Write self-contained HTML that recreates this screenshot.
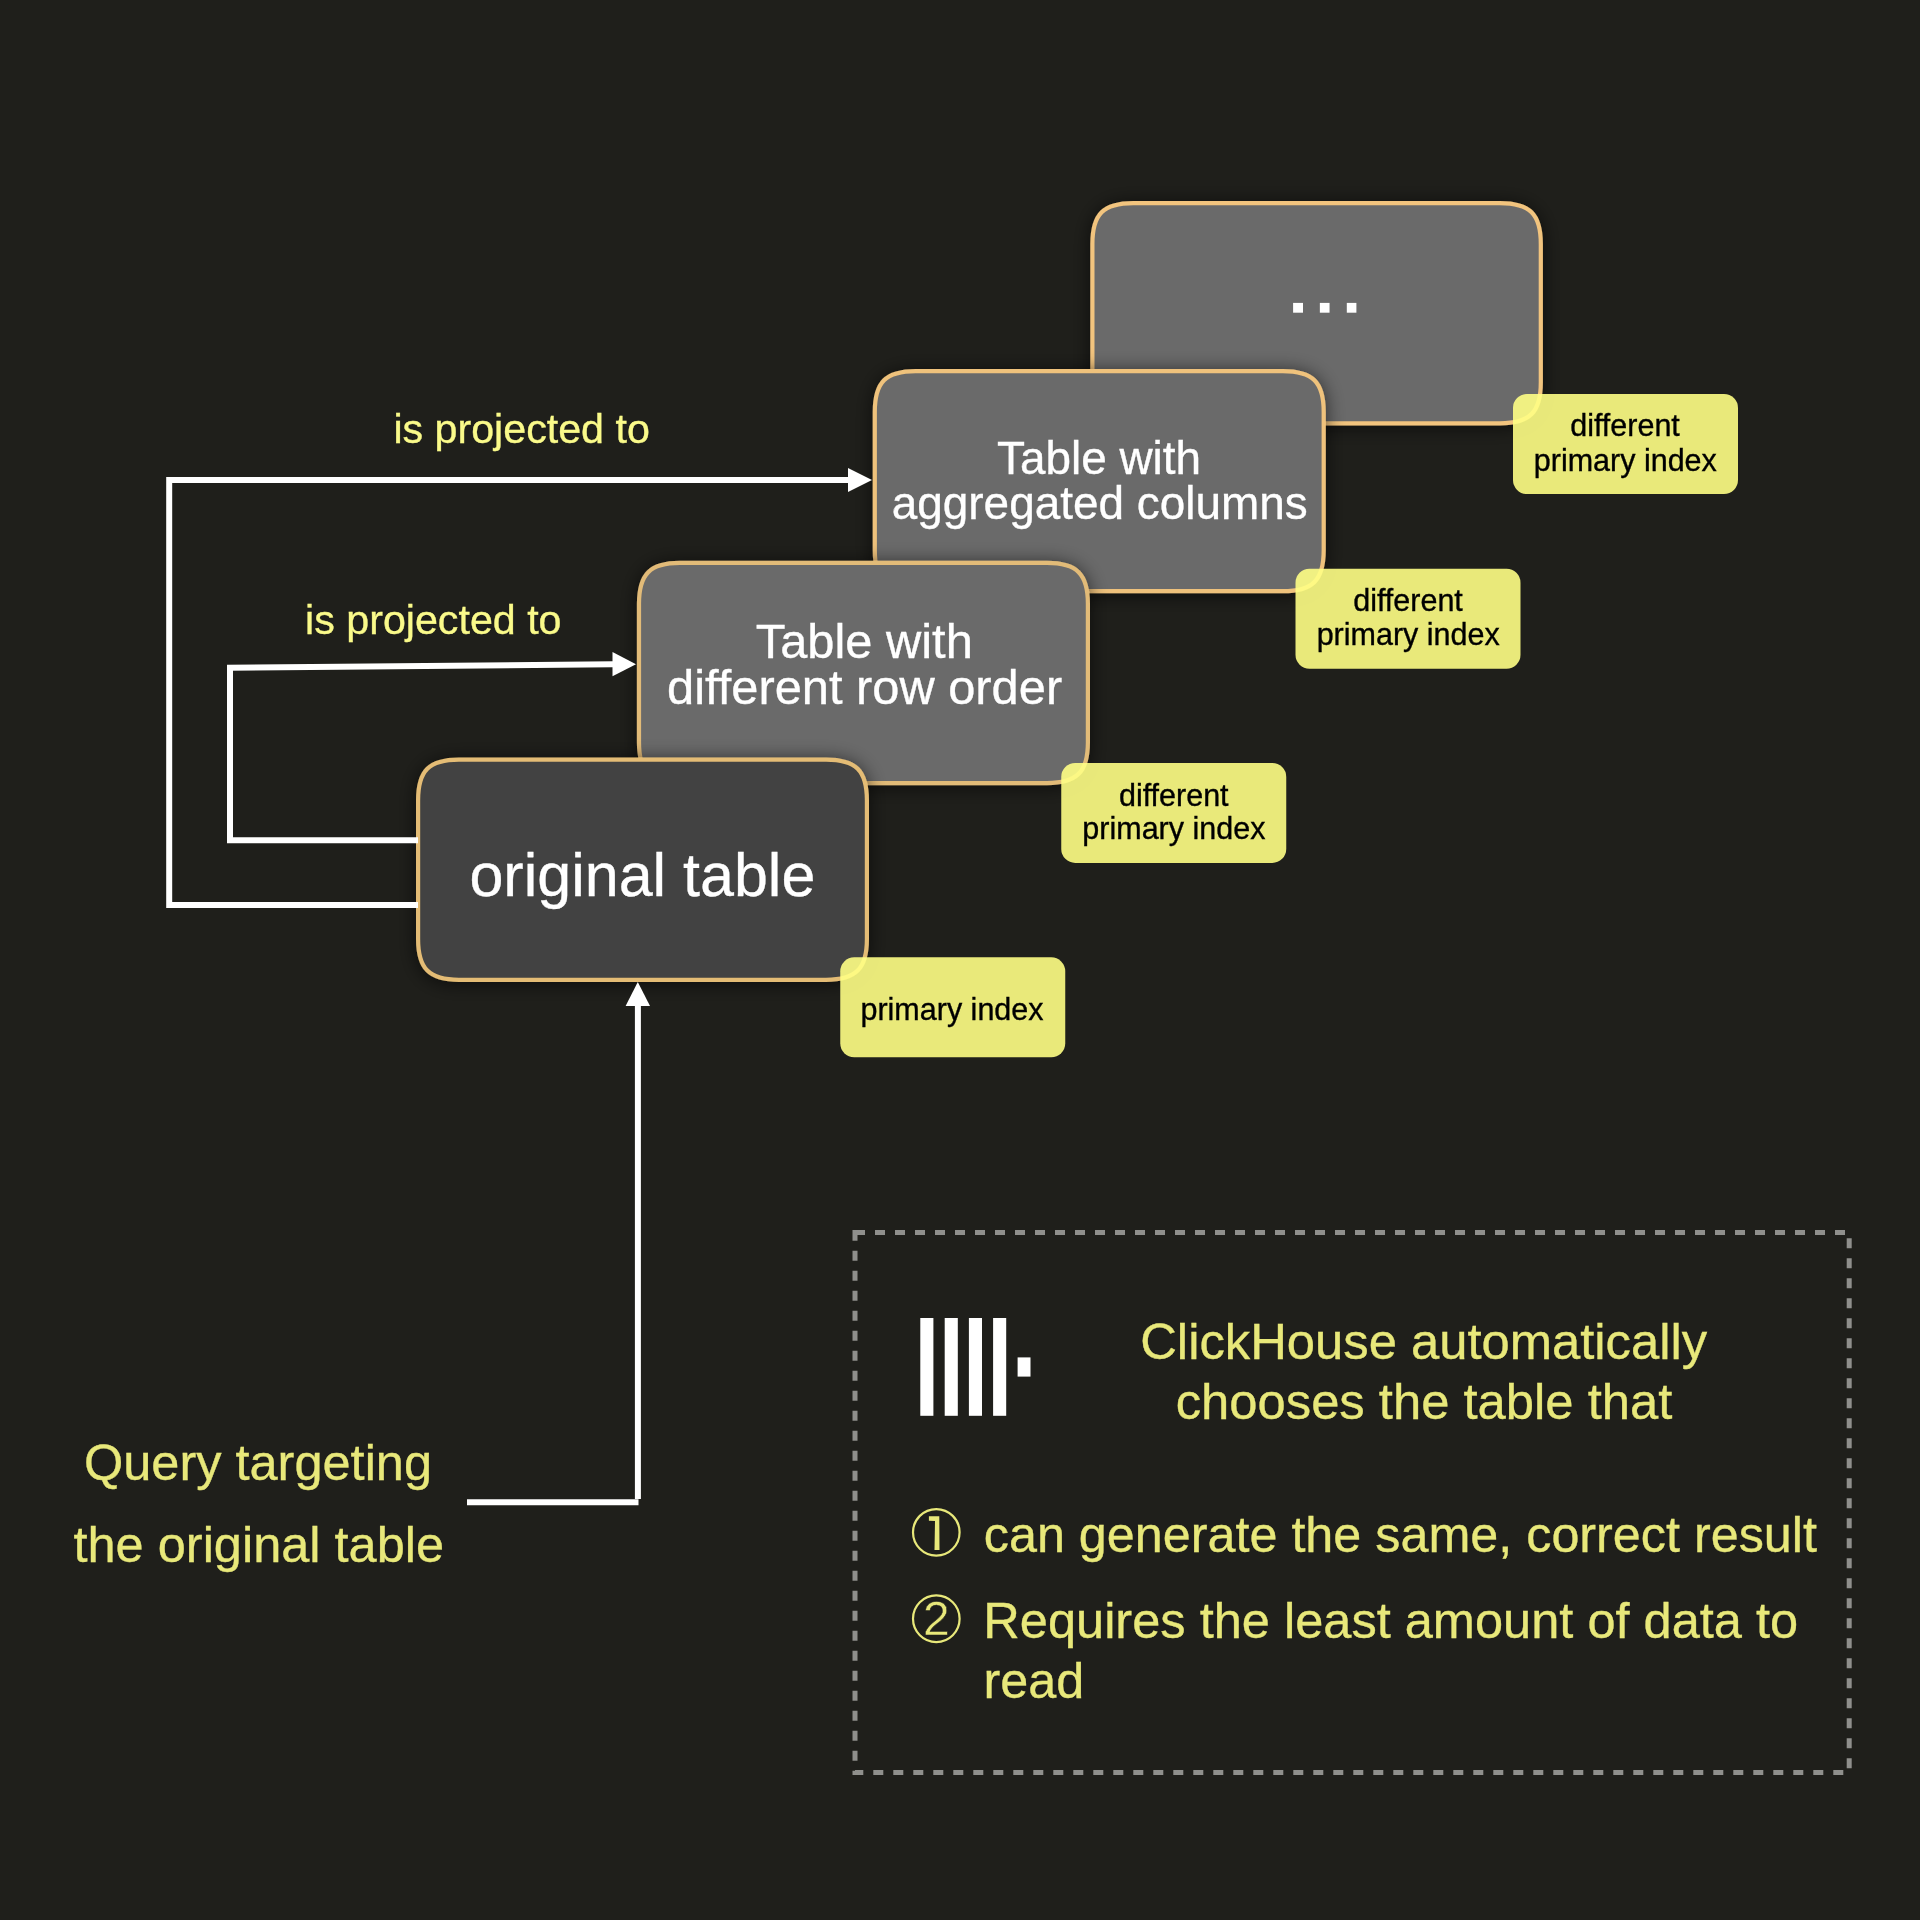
<!DOCTYPE html>
<html>
<head>
<meta charset="utf-8">
<style>
html,body{margin:0;padding:0;background:#1f1f1b;}
body{width:1920px;height:1920px;overflow:hidden;}
svg{display:block;position:absolute;left:0;top:0;will-change:transform;}
text{font-family:"Liberation Sans",sans-serif;}
</style>
</head>
<body>
<svg width="1920" height="1920" viewBox="0 0 1920 1920">
<defs>
<filter id="sh" x="-20%" y="-30%" width="140%" height="160%">
<feDropShadow dx="0" dy="2" stdDeviation="9.5" flood-color="#000" flood-opacity="0.62"/>
</filter>
</defs>
<rect x="0" y="0" width="1920" height="1920" fill="#1f1f1b"/>

<g filter="url(#sh)"><path d="M1092.40,244.00 C1092.40,214.14 1103.44,203.10 1133.30,203.10 H1499.90 C1529.76,203.10 1540.80,214.14 1540.80,244.00 V382.40 C1540.80,412.26 1529.76,423.30 1499.90,423.30 H1133.30 C1103.44,423.30 1092.40,412.26 1092.40,382.40 Z" fill="#6b6b6b" stroke="#f2c47e" stroke-width="4.2"/></g>
<g fill="#fff">
<rect x="1293.1" y="302.9" width="9.9" height="9.8"/>
<rect x="1319.85" y="302.9" width="9.7" height="9.8"/>
<rect x="1346.8" y="302.9" width="9.6" height="9.8"/>
</g>
<rect x="1513" y="394" width="225" height="100" rx="14" fill="#ffff85" fill-opacity="0.9"/>
<g font-size="30.5" fill="#000" text-anchor="middle" stroke="#000" stroke-width="0.35">
<text x="1625" y="436.1">different</text>
<text x="1625.3" y="470.5">primary index</text>
</g>
<g filter="url(#sh)"><path d="M874.80,412.00 C874.80,382.14 885.84,371.10 915.70,371.10 H1282.80 C1312.66,371.10 1323.70,382.14 1323.70,412.00 V550.30 C1323.70,580.16 1312.66,591.20 1282.80,591.20 H915.70 C885.84,591.20 874.80,580.16 874.80,550.30 Z" fill="#6b6b6b" stroke="#efc27c" stroke-width="4.2"/></g>
<g font-size="45.9" fill="#fff" text-anchor="middle" stroke="#fff" stroke-width="0.35">
<text x="1099" y="473.5">Table with</text>
<text x="1099.7" y="518.9">aggregated columns</text>
</g>
<rect x="1295.5" y="568.75" width="225" height="100" rx="14" fill="#ffff85" fill-opacity="0.9"/>
<g font-size="30.5" fill="#000" text-anchor="middle" stroke="#000" stroke-width="0.35">
<text x="1408" y="611.1">different</text>
<text x="1408.2" y="645.1">primary index</text>
</g>
<g filter="url(#sh)"><path d="M639.00,603.80 C639.00,573.94 650.04,562.90 679.90,562.90 H1047.00 C1076.86,562.90 1087.90,573.94 1087.90,603.80 V742.20 C1087.90,772.06 1076.86,783.10 1047.00,783.10 H679.90 C650.04,783.10 639.00,772.06 639.00,742.20 Z" fill="#6b6b6b" stroke="#e2bb78" stroke-width="4.2"/></g>
<g font-size="48.8" fill="#fff" text-anchor="middle" stroke="#fff" stroke-width="0.35">
<text x="864.3" y="657.5">Table with</text>
<text x="864.6" y="704">different row order</text>
</g>
<rect x="1061.25" y="762.9" width="225" height="100" rx="14" fill="#ffff85" fill-opacity="0.9"/>
<g font-size="30.5" fill="#000" text-anchor="middle" stroke="#000" stroke-width="0.35">
<text x="1173.75" y="805.5">different</text>
<text x="1173.9" y="839.3">primary index</text>
</g>
<g filter="url(#sh)"><path d="M418.10,800.50 C418.10,770.64 429.14,759.60 459.00,759.60 H826.00 C855.86,759.60 866.90,770.64 866.90,800.50 V938.90 C866.90,968.76 855.86,979.80 826.00,979.80 H459.00 C429.14,979.80 418.10,968.76 418.10,938.90 Z" fill="#424242" stroke="#e4bc74" stroke-width="4.2"/></g>
<text x="642.4" y="896.3" font-size="61" fill="#fff" text-anchor="middle" stroke="#fff" stroke-width="0.35">original table</text>
<rect x="840.25" y="957.3" width="225" height="100" rx="14" fill="#ffff85" fill-opacity="0.9"/>
<text x="952" y="1019.6" font-size="30.5" fill="#000" text-anchor="middle" stroke="#000" stroke-width="0.35">primary index</text>
<g fill="none" stroke="#fff" stroke-width="6" stroke-linejoin="miter">
<path d="M418 904.9 H169.2 V480 H849"/>
<path d="M418 840.2 H230 V667.7 L613 664.3"/>
<path d="M467 1502.3 H638.5"/>
<path d="M637.9 1499 V1005"/>
</g>
<g fill="#fff">
<polygon points="848,468 872,480 848,492"/>
<polygon points="612.5,652 636,664.2 612.5,676.3"/>
<polygon points="625.6,1006 637.8,982 650,1006"/>
</g>

<g font-size="41.2" fill="#fafa8a" text-anchor="middle" stroke="#fafa8a" stroke-width="0.35">
<text x="521.6" y="443">is projected to</text>
<text x="433.3" y="633.8">is projected to</text>
</g>
<g font-size="50.5" fill="#e8e87a" text-anchor="middle" stroke="#e8e87a" stroke-width="0.35">
<text x="258" y="1480">Query targeting</text>
<text x="258.8" y="1561.7">the original table</text>
</g>
<rect x="855" y="1232.5" width="994.2" height="539.9" fill="none" stroke="#8f8f8c" stroke-width="5" stroke-dasharray="10 10"/>
<g fill="#fff">
<rect x="920.3" y="1318" width="13.1" height="97.8"/>
<rect x="944.7" y="1318" width="13.1" height="97.8"/>
<rect x="968.9" y="1318" width="13.1" height="97.8"/>
<rect x="993.1" y="1318" width="13.1" height="97.8"/>
<rect x="1017.6" y="1357.4" width="12.9" height="19.2"/>
</g>
<g font-size="50.75" fill="#e8e87a" text-anchor="middle" stroke="#e8e87a" stroke-width="0.35">
<text x="1423.7" y="1359.2">ClickHouse automatically</text>
<text x="1424" y="1419.1">chooses the table that</text>
</g>
<g fill="none" stroke="#e8e87a" stroke-width="2.2">
<circle cx="936.3" cy="1532.35" r="23.3"/>
<circle cx="936.3" cy="1618.75" r="23.3"/>
</g>
<polygon fill="#e8e87a" points="928.9,1516.2 939.3,1516.2 939.5,1550 934.5,1550 935,1521 928.9,1520.8"/>
<text x="936.3" y="1635.2" font-size="48" fill="#e8e87a" stroke="#1f1f1b" stroke-width="0.5" text-anchor="middle">2</text>
<g font-size="50.3" fill="#e8e87a" stroke="#e8e87a" stroke-width="0.35">
<text x="983.8" y="1552">can generate the same, correct result</text>
<text x="983.3" y="1637.5" font-size="50.55">Requires the least amount of data to</text>
<text x="983.5" y="1697.5">read</text>
</g>
</svg>
</body>
</html>
